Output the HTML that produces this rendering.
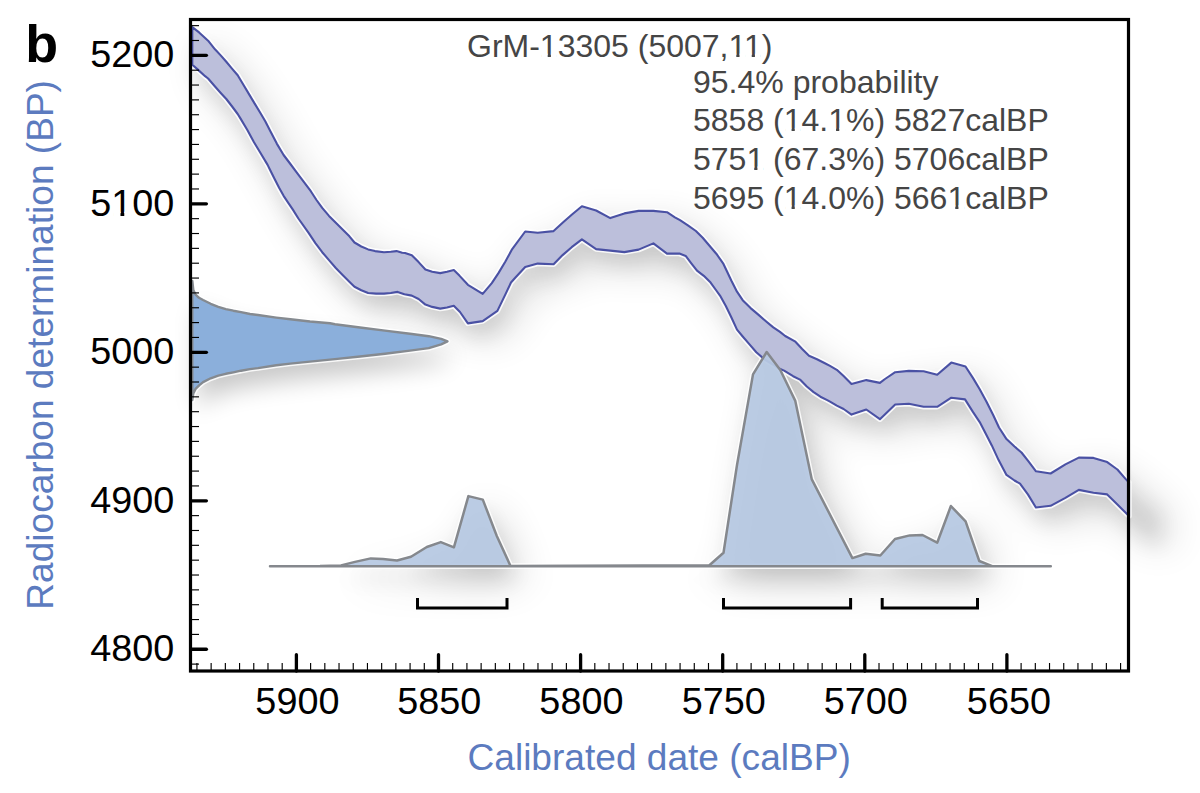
<!DOCTYPE html>
<html><head><meta charset="utf-8"><style>
html,body{margin:0;padding:0;background:#fff;}
body{width:1200px;height:793px;overflow:hidden;}
svg{display:block;font-family:"Liberation Sans",sans-serif;}
</style></head><body>
<svg width="1200" height="793" viewBox="0 0 1200 793">
<defs>
<filter id="sh" x="-30%" y="-30%" width="160%" height="200%">
<feGaussianBlur in="SourceAlpha" stdDeviation="10" result="b1"/>
<feOffset in="b1" dx="5" dy="14" result="o1"/>
<feGaussianBlur in="SourceAlpha" stdDeviation="20" result="b2"/>
<feOffset in="b2" dx="12" dy="15" result="o2"/>
<feComponentTransfer in="o1" result="c1"><feFuncA type="linear" slope="0.1"/></feComponentTransfer>
<feComponentTransfer in="o2" result="c2"><feFuncA type="linear" slope="0.19"/></feComponentTransfer>
<feMerge><feMergeNode in="c2"/><feMergeNode in="c1"/></feMerge>
</filter>
<filter id="sh2" x="-30%" y="-30%" width="160%" height="200%">
<feGaussianBlur in="SourceAlpha" stdDeviation="12"/>
<feOffset dx="6" dy="16"/>
<feComponentTransfer><feFuncA type="linear" slope="0.22"/></feComponentTransfer>
</filter>
</defs>
<rect width="1200" height="793" fill="#fff"/>
<g filter="url(#sh)" fill="#000">
<polygon points="192.3,27.1 199.1,32.4 208.1,40.7 215.0,49.3 220.7,55.4 226.3,61.8 232.0,68.6 237.7,75.2 243.4,84.7 249.0,94.1 254.7,103.6 260.4,113.0 265.4,121.5 270.0,130.5 276.8,143.6 283.6,155.0 290.4,164.0 297.2,173.1 304.0,182.2 310.8,191.2 316.5,200.0 322.2,207.9 329.0,215.9 335.8,222.7 342.6,229.5 349.4,236.3 354.5,242.5 361.3,246.5 368.1,249.4 375.0,251.1 384.0,252.2 390.8,251.7 396.5,251.1 402.2,252.8 405.0,253.0 411.8,255.3 418.6,262.1 425.4,269.5 432.2,271.8 440.2,273.1 447.0,271.8 453.8,270.1 459.4,275.6 467.9,284.8 482.7,293.9 491.8,283.1 498.6,272.9 505.4,261.5 512.2,249.1 525.2,231.5 537.7,232.7 553.6,231.1 562.6,222.8 571.7,214.8 581.9,206.3 596.1,210.5 610.3,218.1 624.4,213.4 638.6,210.9 653.4,210.9 667.0,212.2 674.9,217.3 680.0,220.2 687.9,225.3 695.9,231.0 702.7,237.8 709.5,245.7 716.3,253.7 723.1,263.3 726.8,271.0 731.3,280.5 737.0,291.7 742.7,300.2 750.6,308.1 758.6,314.9 766.5,321.7 773.3,327.4 780.0,331.9 785.2,336.0 795.4,341.7 802.2,349.0 809.0,355.8 817.0,359.2 824.9,363.2 830.0,365.9 836.8,369.8 843.6,376.1 851.5,384.0 866.3,380.1 879.9,382.9 885.0,379.0 895.2,372.2 908.8,370.9 923.6,371.3 937.2,374.7 951.3,362.6 965.5,366.5 972.9,377.9 979.7,389.2 986.5,401.7 993.3,415.3 999.0,427.5 1006.5,439.1 1014.5,446.5 1021.5,452.5 1028.5,461.4 1036.0,471.3 1050.6,473.5 1065.4,464.4 1078.8,457.6 1093.5,457.9 1107.2,462.1 1117.4,469.5 1125.3,478.6 1129.0,482.5 1140.0,490.0 1156.0,500.0 1156.0,534.0 1140.0,526.0 1129.0,516.0 1117.4,504.6 1107.2,494.4 1093.5,492.7 1078.8,489.9 1065.4,497.8 1050.6,505.8 1035.9,507.5 1027.9,494.4 1020.0,483.7 1014.5,480.5 1006.5,474.9 998.6,460.1 991.8,445.4 985.4,433.0 979.7,422.1 972.9,411.9 965.0,399.4 951.3,397.7 937.2,406.8 923.6,406.8 908.8,403.8 895.2,404.5 879.9,419.2 866.3,409.5 851.5,414.6 843.6,409.0 836.8,405.6 830.0,401.6 827.2,400.1 820.4,396.7 813.6,392.1 806.8,386.5 800.0,379.6 793.1,376.2 784.1,370.6 778.0,368.0 772.0,364.0 764.0,359.0 756.3,352.3 749.5,344.4 742.7,336.5 737.0,329.6 731.3,317.2 725.7,305.8 720.0,295.6 716.3,290.5 710.6,282.6 703.8,275.8 697.0,270.7 691.3,263.3 685.7,255.9 679.4,253.6 667.0,253.6 653.4,243.4 638.6,249.6 624.4,252.1 610.3,250.6 596.1,249.1 581.9,239.4 571.7,247.2 562.6,255.1 553.6,264.2 537.7,263.6 525.2,267.0 515.0,278.0 511.0,282.5 505.4,294.4 497.4,310.9 482.7,321.1 467.9,323.4 460.0,312.0 453.8,305.8 447.0,307.5 440.2,308.6 432.2,306.9 425.4,304.6 418.6,299.0 411.8,295.6 404.4,294.2 397.6,291.9 390.8,293.0 384.0,293.6 376.1,293.6 368.1,293.0 361.3,290.2 354.5,286.8 349.6,282.0 342.6,274.9 335.8,268.0 329.0,260.1 322.2,252.2 315.4,243.1 308.6,232.9 298.4,218.5 292.7,209.4 288.1,202.6 283.6,195.8 279.1,187.8 274.5,178.8 270.0,169.7 267.6,164.9 260.8,153.5 254.0,142.2 247.2,129.7 240.4,118.4 237.7,114.0 232.5,107.0 226.3,99.0 220.5,92.7 215.0,86.5 208.1,78.5 205.1,76.2 197.6,69.4 192.3,64.8"/>
<polygon points="270.0,566.2 320.0,566.1 341.0,565.4 355.0,561.9 370.8,558.4 383.0,559.1 397.0,560.5 411.0,556.7 426.8,547.0 440.8,542.1 453.9,547.4 468.4,496.1 482.8,499.6 496.8,536.0 510.5,565.9 709.4,565.2 723.5,552.8 737.0,465.0 753.0,374.4 766.7,352.0 780.3,370.0 795.3,400.9 811.8,479.4 852.4,558.1 865.7,553.7 880.3,555.5 895.0,539.0 909.7,535.4 922.5,535.0 937.2,542.7 950.9,506.0 965.6,521.3 979.3,561.0 992.2,566.2 1050.8,566.2"/>
</g>
<g filter="url(#sh2)" fill="#000">
<polygon points="192.3,281.0 193.3,290.0 195.6,294.7 199.0,297.8 203.1,300.0 210.7,303.8 218.3,306.8 225.8,309.1 233.4,310.7 241.0,312.1 250.0,314.0 258.0,315.0 276.3,317.6 290.4,319.3 310.0,321.5 330.0,323.2 335.0,324.2 360.0,327.5 385.0,330.6 410.0,333.8 428.8,336.2 441.2,338.8 447.5,341.4 441.2,344.4 428.8,348.1 410.0,350.6 385.0,353.8 360.0,356.5 335.0,359.1 330.0,359.6 310.0,361.6 290.4,363.6 276.3,365.3 258.0,368.1 250.0,369.1 241.0,370.7 233.4,372.3 225.8,373.8 218.3,375.7 210.7,378.3 203.1,382.1 199.4,385.1 195.6,388.9 193.3,393.4 192.3,400.0"/>
</g>
<g fill="none" stroke="#fff" stroke-width="5.5" stroke-linejoin="round" stroke-opacity="0.85">
<polygon points="192.3,27.1 199.1,32.4 208.1,40.7 215.0,49.3 220.7,55.4 226.3,61.8 232.0,68.6 237.7,75.2 243.4,84.7 249.0,94.1 254.7,103.6 260.4,113.0 265.4,121.5 270.0,130.5 276.8,143.6 283.6,155.0 290.4,164.0 297.2,173.1 304.0,182.2 310.8,191.2 316.5,200.0 322.2,207.9 329.0,215.9 335.8,222.7 342.6,229.5 349.4,236.3 354.5,242.5 361.3,246.5 368.1,249.4 375.0,251.1 384.0,252.2 390.8,251.7 396.5,251.1 402.2,252.8 405.0,253.0 411.8,255.3 418.6,262.1 425.4,269.5 432.2,271.8 440.2,273.1 447.0,271.8 453.8,270.1 459.4,275.6 467.9,284.8 482.7,293.9 491.8,283.1 498.6,272.9 505.4,261.5 512.2,249.1 525.2,231.5 537.7,232.7 553.6,231.1 562.6,222.8 571.7,214.8 581.9,206.3 596.1,210.5 610.3,218.1 624.4,213.4 638.6,210.9 653.4,210.9 667.0,212.2 674.9,217.3 680.0,220.2 687.9,225.3 695.9,231.0 702.7,237.8 709.5,245.7 716.3,253.7 723.1,263.3 726.8,271.0 731.3,280.5 737.0,291.7 742.7,300.2 750.6,308.1 758.6,314.9 766.5,321.7 773.3,327.4 780.0,331.9 785.2,336.0 795.4,341.7 802.2,349.0 809.0,355.8 817.0,359.2 824.9,363.2 830.0,365.9 836.8,369.8 843.6,376.1 851.5,384.0 866.3,380.1 879.9,382.9 885.0,379.0 895.2,372.2 908.8,370.9 923.6,371.3 937.2,374.7 951.3,362.6 965.5,366.5 972.9,377.9 979.7,389.2 986.5,401.7 993.3,415.3 999.0,427.5 1006.5,439.1 1014.5,446.5 1021.5,452.5 1028.5,461.4 1036.0,471.3 1050.6,473.5 1065.4,464.4 1078.8,457.6 1093.5,457.9 1107.2,462.1 1117.4,469.5 1125.3,478.6 1129.0,482.5 1129.0,516.0 1117.4,504.6 1107.2,494.4 1093.5,492.7 1078.8,489.9 1065.4,497.8 1050.6,505.8 1035.9,507.5 1027.9,494.4 1020.0,483.7 1014.5,480.5 1006.5,474.9 998.6,460.1 991.8,445.4 985.4,433.0 979.7,422.1 972.9,411.9 965.0,399.4 951.3,397.7 937.2,406.8 923.6,406.8 908.8,403.8 895.2,404.5 879.9,419.2 866.3,409.5 851.5,414.6 843.6,409.0 836.8,405.6 830.0,401.6 827.2,400.1 820.4,396.7 813.6,392.1 806.8,386.5 800.0,379.6 793.1,376.2 784.1,370.6 778.0,368.0 772.0,364.0 764.0,359.0 756.3,352.3 749.5,344.4 742.7,336.5 737.0,329.6 731.3,317.2 725.7,305.8 720.0,295.6 716.3,290.5 710.6,282.6 703.8,275.8 697.0,270.7 691.3,263.3 685.7,255.9 679.4,253.6 667.0,253.6 653.4,243.4 638.6,249.6 624.4,252.1 610.3,250.6 596.1,249.1 581.9,239.4 571.7,247.2 562.6,255.1 553.6,264.2 537.7,263.6 525.2,267.0 515.0,278.0 511.0,282.5 505.4,294.4 497.4,310.9 482.7,321.1 467.9,323.4 460.0,312.0 453.8,305.8 447.0,307.5 440.2,308.6 432.2,306.9 425.4,304.6 418.6,299.0 411.8,295.6 404.4,294.2 397.6,291.9 390.8,293.0 384.0,293.6 376.1,293.6 368.1,293.0 361.3,290.2 354.5,286.8 349.6,282.0 342.6,274.9 335.8,268.0 329.0,260.1 322.2,252.2 315.4,243.1 308.6,232.9 298.4,218.5 292.7,209.4 288.1,202.6 283.6,195.8 279.1,187.8 274.5,178.8 270.0,169.7 267.6,164.9 260.8,153.5 254.0,142.2 247.2,129.7 240.4,118.4 237.7,114.0 232.5,107.0 226.3,99.0 220.5,92.7 215.0,86.5 208.1,78.5 205.1,76.2 197.6,69.4 192.3,64.8"/>
<polygon points="192.3,281.0 193.3,290.0 195.6,294.7 199.0,297.8 203.1,300.0 210.7,303.8 218.3,306.8 225.8,309.1 233.4,310.7 241.0,312.1 250.0,314.0 258.0,315.0 276.3,317.6 290.4,319.3 310.0,321.5 330.0,323.2 335.0,324.2 360.0,327.5 385.0,330.6 410.0,333.8 428.8,336.2 441.2,338.8 447.5,341.4 441.2,344.4 428.8,348.1 410.0,350.6 385.0,353.8 360.0,356.5 335.0,359.1 330.0,359.6 310.0,361.6 290.4,363.6 276.3,365.3 258.0,368.1 250.0,369.1 241.0,370.7 233.4,372.3 225.8,373.8 218.3,375.7 210.7,378.3 203.1,382.1 199.4,385.1 195.6,388.9 193.3,393.4 192.3,400.0"/>
<polygon points="270.0,566.2 320.0,566.1 341.0,565.4 355.0,561.9 370.8,558.4 383.0,559.1 397.0,560.5 411.0,556.7 426.8,547.0 440.8,542.1 453.9,547.4 468.4,496.1 482.8,499.6 496.8,536.0 510.5,565.9 709.4,565.2 723.5,552.8 737.0,465.0 753.0,374.4 766.7,352.0 780.3,370.0 795.3,400.9 811.8,479.4 852.4,558.1 865.7,553.7 880.3,555.5 895.0,539.0 909.7,535.4 922.5,535.0 937.2,542.7 950.9,506.0 965.6,521.3 979.3,561.0 992.2,566.2 1050.8,566.2"/>
</g>
<polygon points="192.3,27.1 199.1,32.4 208.1,40.7 215.0,49.3 220.7,55.4 226.3,61.8 232.0,68.6 237.7,75.2 243.4,84.7 249.0,94.1 254.7,103.6 260.4,113.0 265.4,121.5 270.0,130.5 276.8,143.6 283.6,155.0 290.4,164.0 297.2,173.1 304.0,182.2 310.8,191.2 316.5,200.0 322.2,207.9 329.0,215.9 335.8,222.7 342.6,229.5 349.4,236.3 354.5,242.5 361.3,246.5 368.1,249.4 375.0,251.1 384.0,252.2 390.8,251.7 396.5,251.1 402.2,252.8 405.0,253.0 411.8,255.3 418.6,262.1 425.4,269.5 432.2,271.8 440.2,273.1 447.0,271.8 453.8,270.1 459.4,275.6 467.9,284.8 482.7,293.9 491.8,283.1 498.6,272.9 505.4,261.5 512.2,249.1 525.2,231.5 537.7,232.7 553.6,231.1 562.6,222.8 571.7,214.8 581.9,206.3 596.1,210.5 610.3,218.1 624.4,213.4 638.6,210.9 653.4,210.9 667.0,212.2 674.9,217.3 680.0,220.2 687.9,225.3 695.9,231.0 702.7,237.8 709.5,245.7 716.3,253.7 723.1,263.3 726.8,271.0 731.3,280.5 737.0,291.7 742.7,300.2 750.6,308.1 758.6,314.9 766.5,321.7 773.3,327.4 780.0,331.9 785.2,336.0 795.4,341.7 802.2,349.0 809.0,355.8 817.0,359.2 824.9,363.2 830.0,365.9 836.8,369.8 843.6,376.1 851.5,384.0 866.3,380.1 879.9,382.9 885.0,379.0 895.2,372.2 908.8,370.9 923.6,371.3 937.2,374.7 951.3,362.6 965.5,366.5 972.9,377.9 979.7,389.2 986.5,401.7 993.3,415.3 999.0,427.5 1006.5,439.1 1014.5,446.5 1021.5,452.5 1028.5,461.4 1036.0,471.3 1050.6,473.5 1065.4,464.4 1078.8,457.6 1093.5,457.9 1107.2,462.1 1117.4,469.5 1125.3,478.6 1129.0,482.5 1129.0,516.0 1117.4,504.6 1107.2,494.4 1093.5,492.7 1078.8,489.9 1065.4,497.8 1050.6,505.8 1035.9,507.5 1027.9,494.4 1020.0,483.7 1014.5,480.5 1006.5,474.9 998.6,460.1 991.8,445.4 985.4,433.0 979.7,422.1 972.9,411.9 965.0,399.4 951.3,397.7 937.2,406.8 923.6,406.8 908.8,403.8 895.2,404.5 879.9,419.2 866.3,409.5 851.5,414.6 843.6,409.0 836.8,405.6 830.0,401.6 827.2,400.1 820.4,396.7 813.6,392.1 806.8,386.5 800.0,379.6 793.1,376.2 784.1,370.6 778.0,368.0 772.0,364.0 764.0,359.0 756.3,352.3 749.5,344.4 742.7,336.5 737.0,329.6 731.3,317.2 725.7,305.8 720.0,295.6 716.3,290.5 710.6,282.6 703.8,275.8 697.0,270.7 691.3,263.3 685.7,255.9 679.4,253.6 667.0,253.6 653.4,243.4 638.6,249.6 624.4,252.1 610.3,250.6 596.1,249.1 581.9,239.4 571.7,247.2 562.6,255.1 553.6,264.2 537.7,263.6 525.2,267.0 515.0,278.0 511.0,282.5 505.4,294.4 497.4,310.9 482.7,321.1 467.9,323.4 460.0,312.0 453.8,305.8 447.0,307.5 440.2,308.6 432.2,306.9 425.4,304.6 418.6,299.0 411.8,295.6 404.4,294.2 397.6,291.9 390.8,293.0 384.0,293.6 376.1,293.6 368.1,293.0 361.3,290.2 354.5,286.8 349.6,282.0 342.6,274.9 335.8,268.0 329.0,260.1 322.2,252.2 315.4,243.1 308.6,232.9 298.4,218.5 292.7,209.4 288.1,202.6 283.6,195.8 279.1,187.8 274.5,178.8 270.0,169.7 267.6,164.9 260.8,153.5 254.0,142.2 247.2,129.7 240.4,118.4 237.7,114.0 232.5,107.0 226.3,99.0 220.5,92.7 215.0,86.5 208.1,78.5 205.1,76.2 197.6,69.4 192.3,64.8" fill="#bcbfdb" stroke="#4a51a4" stroke-width="2.1" stroke-linejoin="round"/>
<polygon points="192.3,281.0 193.3,290.0 195.6,294.7 199.0,297.8 203.1,300.0 210.7,303.8 218.3,306.8 225.8,309.1 233.4,310.7 241.0,312.1 250.0,314.0 258.0,315.0 276.3,317.6 290.4,319.3 310.0,321.5 330.0,323.2 335.0,324.2 360.0,327.5 385.0,330.6 410.0,333.8 428.8,336.2 441.2,338.8 447.5,341.4 441.2,344.4 428.8,348.1 410.0,350.6 385.0,353.8 360.0,356.5 335.0,359.1 330.0,359.6 310.0,361.6 290.4,363.6 276.3,365.3 258.0,368.1 250.0,369.1 241.0,370.7 233.4,372.3 225.8,373.8 218.3,375.7 210.7,378.3 203.1,382.1 199.4,385.1 195.6,388.9 193.3,393.4 192.3,400.0" fill="#8bafdb" stroke="#858a90" stroke-width="2.4" stroke-linejoin="round"/>
<polygon points="270.0,566.2 320.0,566.1 341.0,565.4 355.0,561.9 370.8,558.4 383.0,559.1 397.0,560.5 411.0,556.7 426.8,547.0 440.8,542.1 453.9,547.4 468.4,496.1 482.8,499.6 496.8,536.0 510.5,565.9 709.4,565.2 723.5,552.8 737.0,465.0 753.0,374.4 766.7,352.0 780.3,370.0 795.3,400.9 811.8,479.4 852.4,558.1 865.7,553.7 880.3,555.5 895.0,539.0 909.7,535.4 922.5,535.0 937.2,542.7 950.9,506.0 965.6,521.3 979.3,561.0 992.2,566.2 1050.8,566.2" fill="#b7c9e3" fill-opacity="0.95" stroke="#85888d" stroke-width="2.5" stroke-linejoin="round"/>
<g stroke="#000" stroke-width="3" fill="none">
<polyline points="417.5,598 417.5,608 507,608 507,598"/>
<polyline points="723.5,598 723.5,608 850.6,608 850.6,598"/>
<polyline points="882.2,598 882.2,608 977.5,608 977.5,598"/>
</g>
<line x1="191" y1="664.11" x2="199" y2="664.11" stroke="#000" stroke-width="1.15" stroke-linecap="butt"/><line x1="191" y1="649.26" x2="206.4" y2="649.26" stroke="#000" stroke-width="3.3" stroke-linecap="round"/><line x1="191" y1="634.41" x2="199" y2="634.41" stroke="#000" stroke-width="1.15" stroke-linecap="butt"/><line x1="191" y1="619.56" x2="199" y2="619.56" stroke="#000" stroke-width="1.15" stroke-linecap="butt"/><line x1="191" y1="604.72" x2="199" y2="604.72" stroke="#000" stroke-width="1.15" stroke-linecap="butt"/><line x1="191" y1="589.87" x2="199" y2="589.87" stroke="#000" stroke-width="1.15" stroke-linecap="butt"/><line x1="191" y1="575.02" x2="199" y2="575.02" stroke="#000" stroke-width="1.15" stroke-linecap="butt"/><line x1="191" y1="560.17" x2="199" y2="560.17" stroke="#000" stroke-width="1.15" stroke-linecap="butt"/><line x1="191" y1="545.32" x2="199" y2="545.32" stroke="#000" stroke-width="1.15" stroke-linecap="butt"/><line x1="191" y1="530.48" x2="199" y2="530.48" stroke="#000" stroke-width="1.15" stroke-linecap="butt"/><line x1="191" y1="515.63" x2="199" y2="515.63" stroke="#000" stroke-width="1.15" stroke-linecap="butt"/><line x1="191" y1="500.78" x2="206.4" y2="500.78" stroke="#000" stroke-width="3.3" stroke-linecap="round"/><line x1="191" y1="485.93" x2="199" y2="485.93" stroke="#000" stroke-width="1.15" stroke-linecap="butt"/><line x1="191" y1="471.08" x2="199" y2="471.08" stroke="#000" stroke-width="1.15" stroke-linecap="butt"/><line x1="191" y1="456.24" x2="199" y2="456.24" stroke="#000" stroke-width="1.15" stroke-linecap="butt"/><line x1="191" y1="441.39" x2="199" y2="441.39" stroke="#000" stroke-width="1.15" stroke-linecap="butt"/><line x1="191" y1="426.54" x2="199" y2="426.54" stroke="#000" stroke-width="1.15" stroke-linecap="butt"/><line x1="191" y1="411.69" x2="199" y2="411.69" stroke="#000" stroke-width="1.15" stroke-linecap="butt"/><line x1="191" y1="396.84" x2="199" y2="396.84" stroke="#000" stroke-width="1.15" stroke-linecap="butt"/><line x1="191" y1="382.00" x2="199" y2="382.00" stroke="#000" stroke-width="1.15" stroke-linecap="butt"/><line x1="191" y1="367.15" x2="199" y2="367.15" stroke="#000" stroke-width="1.15" stroke-linecap="butt"/><line x1="191" y1="352.30" x2="206.4" y2="352.30" stroke="#000" stroke-width="3.3" stroke-linecap="round"/><line x1="191" y1="337.45" x2="199" y2="337.45" stroke="#000" stroke-width="1.15" stroke-linecap="butt"/><line x1="191" y1="322.60" x2="199" y2="322.60" stroke="#000" stroke-width="1.15" stroke-linecap="butt"/><line x1="191" y1="307.76" x2="199" y2="307.76" stroke="#000" stroke-width="1.15" stroke-linecap="butt"/><line x1="191" y1="292.91" x2="199" y2="292.91" stroke="#000" stroke-width="1.15" stroke-linecap="butt"/><line x1="191" y1="278.06" x2="199" y2="278.06" stroke="#000" stroke-width="1.15" stroke-linecap="butt"/><line x1="191" y1="263.21" x2="199" y2="263.21" stroke="#000" stroke-width="1.15" stroke-linecap="butt"/><line x1="191" y1="248.36" x2="199" y2="248.36" stroke="#000" stroke-width="1.15" stroke-linecap="butt"/><line x1="191" y1="233.52" x2="199" y2="233.52" stroke="#000" stroke-width="1.15" stroke-linecap="butt"/><line x1="191" y1="218.67" x2="199" y2="218.67" stroke="#000" stroke-width="1.15" stroke-linecap="butt"/><line x1="191" y1="203.82" x2="206.4" y2="203.82" stroke="#000" stroke-width="3.3" stroke-linecap="round"/><line x1="191" y1="188.97" x2="199" y2="188.97" stroke="#000" stroke-width="1.15" stroke-linecap="butt"/><line x1="191" y1="174.12" x2="199" y2="174.12" stroke="#000" stroke-width="1.15" stroke-linecap="butt"/><line x1="191" y1="159.28" x2="199" y2="159.28" stroke="#000" stroke-width="1.15" stroke-linecap="butt"/><line x1="191" y1="144.43" x2="199" y2="144.43" stroke="#000" stroke-width="1.15" stroke-linecap="butt"/><line x1="191" y1="129.58" x2="199" y2="129.58" stroke="#000" stroke-width="1.15" stroke-linecap="butt"/><line x1="191" y1="114.73" x2="199" y2="114.73" stroke="#000" stroke-width="1.15" stroke-linecap="butt"/><line x1="191" y1="99.88" x2="199" y2="99.88" stroke="#000" stroke-width="1.15" stroke-linecap="butt"/><line x1="191" y1="85.04" x2="199" y2="85.04" stroke="#000" stroke-width="1.15" stroke-linecap="butt"/><line x1="191" y1="70.19" x2="199" y2="70.19" stroke="#000" stroke-width="1.15" stroke-linecap="butt"/><line x1="191" y1="55.34" x2="206.4" y2="55.34" stroke="#000" stroke-width="3.3" stroke-linecap="round"/><line x1="191" y1="40.49" x2="199" y2="40.49" stroke="#000" stroke-width="1.15" stroke-linecap="butt"/><line x1="191" y1="25.64" x2="199" y2="25.64" stroke="#000" stroke-width="1.15" stroke-linecap="butt"/><line x1="1120.58" y1="671" x2="1120.58" y2="663" stroke="#000" stroke-width="1.15" stroke-linecap="butt"/><line x1="1106.37" y1="671" x2="1106.37" y2="663" stroke="#000" stroke-width="1.15" stroke-linecap="butt"/><line x1="1092.16" y1="671" x2="1092.16" y2="663" stroke="#000" stroke-width="1.15" stroke-linecap="butt"/><line x1="1077.95" y1="671" x2="1077.95" y2="663" stroke="#000" stroke-width="1.15" stroke-linecap="butt"/><line x1="1063.74" y1="671" x2="1063.74" y2="663" stroke="#000" stroke-width="1.15" stroke-linecap="butt"/><line x1="1049.53" y1="671" x2="1049.53" y2="663" stroke="#000" stroke-width="1.15" stroke-linecap="butt"/><line x1="1035.32" y1="671" x2="1035.32" y2="663" stroke="#000" stroke-width="1.15" stroke-linecap="butt"/><line x1="1021.11" y1="671" x2="1021.11" y2="663" stroke="#000" stroke-width="1.15" stroke-linecap="butt"/><line x1="1006.90" y1="671" x2="1006.90" y2="654.7" stroke="#000" stroke-width="3.3" stroke-linecap="round"/><line x1="992.69" y1="671" x2="992.69" y2="663" stroke="#000" stroke-width="1.15" stroke-linecap="butt"/><line x1="978.48" y1="671" x2="978.48" y2="663" stroke="#000" stroke-width="1.15" stroke-linecap="butt"/><line x1="964.27" y1="671" x2="964.27" y2="663" stroke="#000" stroke-width="1.15" stroke-linecap="butt"/><line x1="950.06" y1="671" x2="950.06" y2="663" stroke="#000" stroke-width="1.15" stroke-linecap="butt"/><line x1="935.85" y1="671" x2="935.85" y2="663" stroke="#000" stroke-width="1.15" stroke-linecap="butt"/><line x1="921.64" y1="671" x2="921.64" y2="663" stroke="#000" stroke-width="1.15" stroke-linecap="butt"/><line x1="907.43" y1="671" x2="907.43" y2="663" stroke="#000" stroke-width="1.15" stroke-linecap="butt"/><line x1="893.22" y1="671" x2="893.22" y2="663" stroke="#000" stroke-width="1.15" stroke-linecap="butt"/><line x1="879.01" y1="671" x2="879.01" y2="663" stroke="#000" stroke-width="1.15" stroke-linecap="butt"/><line x1="864.80" y1="671" x2="864.80" y2="654.7" stroke="#000" stroke-width="3.3" stroke-linecap="round"/><line x1="850.59" y1="671" x2="850.59" y2="663" stroke="#000" stroke-width="1.15" stroke-linecap="butt"/><line x1="836.38" y1="671" x2="836.38" y2="663" stroke="#000" stroke-width="1.15" stroke-linecap="butt"/><line x1="822.17" y1="671" x2="822.17" y2="663" stroke="#000" stroke-width="1.15" stroke-linecap="butt"/><line x1="807.96" y1="671" x2="807.96" y2="663" stroke="#000" stroke-width="1.15" stroke-linecap="butt"/><line x1="793.75" y1="671" x2="793.75" y2="663" stroke="#000" stroke-width="1.15" stroke-linecap="butt"/><line x1="779.54" y1="671" x2="779.54" y2="663" stroke="#000" stroke-width="1.15" stroke-linecap="butt"/><line x1="765.33" y1="671" x2="765.33" y2="663" stroke="#000" stroke-width="1.15" stroke-linecap="butt"/><line x1="751.12" y1="671" x2="751.12" y2="663" stroke="#000" stroke-width="1.15" stroke-linecap="butt"/><line x1="736.91" y1="671" x2="736.91" y2="663" stroke="#000" stroke-width="1.15" stroke-linecap="butt"/><line x1="722.70" y1="671" x2="722.70" y2="654.7" stroke="#000" stroke-width="3.3" stroke-linecap="round"/><line x1="708.49" y1="671" x2="708.49" y2="663" stroke="#000" stroke-width="1.15" stroke-linecap="butt"/><line x1="694.28" y1="671" x2="694.28" y2="663" stroke="#000" stroke-width="1.15" stroke-linecap="butt"/><line x1="680.07" y1="671" x2="680.07" y2="663" stroke="#000" stroke-width="1.15" stroke-linecap="butt"/><line x1="665.86" y1="671" x2="665.86" y2="663" stroke="#000" stroke-width="1.15" stroke-linecap="butt"/><line x1="651.65" y1="671" x2="651.65" y2="663" stroke="#000" stroke-width="1.15" stroke-linecap="butt"/><line x1="637.44" y1="671" x2="637.44" y2="663" stroke="#000" stroke-width="1.15" stroke-linecap="butt"/><line x1="623.23" y1="671" x2="623.23" y2="663" stroke="#000" stroke-width="1.15" stroke-linecap="butt"/><line x1="609.02" y1="671" x2="609.02" y2="663" stroke="#000" stroke-width="1.15" stroke-linecap="butt"/><line x1="594.81" y1="671" x2="594.81" y2="663" stroke="#000" stroke-width="1.15" stroke-linecap="butt"/><line x1="580.60" y1="671" x2="580.60" y2="654.7" stroke="#000" stroke-width="3.3" stroke-linecap="round"/><line x1="566.39" y1="671" x2="566.39" y2="663" stroke="#000" stroke-width="1.15" stroke-linecap="butt"/><line x1="552.18" y1="671" x2="552.18" y2="663" stroke="#000" stroke-width="1.15" stroke-linecap="butt"/><line x1="537.97" y1="671" x2="537.97" y2="663" stroke="#000" stroke-width="1.15" stroke-linecap="butt"/><line x1="523.76" y1="671" x2="523.76" y2="663" stroke="#000" stroke-width="1.15" stroke-linecap="butt"/><line x1="509.55" y1="671" x2="509.55" y2="663" stroke="#000" stroke-width="1.15" stroke-linecap="butt"/><line x1="495.34" y1="671" x2="495.34" y2="663" stroke="#000" stroke-width="1.15" stroke-linecap="butt"/><line x1="481.13" y1="671" x2="481.13" y2="663" stroke="#000" stroke-width="1.15" stroke-linecap="butt"/><line x1="466.92" y1="671" x2="466.92" y2="663" stroke="#000" stroke-width="1.15" stroke-linecap="butt"/><line x1="452.71" y1="671" x2="452.71" y2="663" stroke="#000" stroke-width="1.15" stroke-linecap="butt"/><line x1="438.50" y1="671" x2="438.50" y2="654.7" stroke="#000" stroke-width="3.3" stroke-linecap="round"/><line x1="424.29" y1="671" x2="424.29" y2="663" stroke="#000" stroke-width="1.15" stroke-linecap="butt"/><line x1="410.08" y1="671" x2="410.08" y2="663" stroke="#000" stroke-width="1.15" stroke-linecap="butt"/><line x1="395.87" y1="671" x2="395.87" y2="663" stroke="#000" stroke-width="1.15" stroke-linecap="butt"/><line x1="381.66" y1="671" x2="381.66" y2="663" stroke="#000" stroke-width="1.15" stroke-linecap="butt"/><line x1="367.45" y1="671" x2="367.45" y2="663" stroke="#000" stroke-width="1.15" stroke-linecap="butt"/><line x1="353.24" y1="671" x2="353.24" y2="663" stroke="#000" stroke-width="1.15" stroke-linecap="butt"/><line x1="339.03" y1="671" x2="339.03" y2="663" stroke="#000" stroke-width="1.15" stroke-linecap="butt"/><line x1="324.82" y1="671" x2="324.82" y2="663" stroke="#000" stroke-width="1.15" stroke-linecap="butt"/><line x1="310.61" y1="671" x2="310.61" y2="663" stroke="#000" stroke-width="1.15" stroke-linecap="butt"/><line x1="296.40" y1="671" x2="296.40" y2="654.7" stroke="#000" stroke-width="3.3" stroke-linecap="round"/><line x1="282.19" y1="671" x2="282.19" y2="663" stroke="#000" stroke-width="1.15" stroke-linecap="butt"/><line x1="267.98" y1="671" x2="267.98" y2="663" stroke="#000" stroke-width="1.15" stroke-linecap="butt"/><line x1="253.77" y1="671" x2="253.77" y2="663" stroke="#000" stroke-width="1.15" stroke-linecap="butt"/><line x1="239.56" y1="671" x2="239.56" y2="663" stroke="#000" stroke-width="1.15" stroke-linecap="butt"/><line x1="225.35" y1="671" x2="225.35" y2="663" stroke="#000" stroke-width="1.15" stroke-linecap="butt"/><line x1="211.14" y1="671" x2="211.14" y2="663" stroke="#000" stroke-width="1.15" stroke-linecap="butt"/><line x1="196.93" y1="671" x2="196.93" y2="663" stroke="#000" stroke-width="1.15" stroke-linecap="butt"/>
<rect x="190.5" y="19.5" width="938" height="651.5" fill="none" stroke="#000" stroke-width="3.2"/>
<g font-size="37" fill="#000"><text transform="translate(174.3,67.3) scale(1.022,1)" text-anchor="end">5200</text><text transform="translate(174.3,215.8) scale(1.022,1)" text-anchor="end">5100</text><text transform="translate(174.3,364.3) scale(1.022,1)" text-anchor="end">5000</text><text transform="translate(174.3,512.8) scale(1.022,1)" text-anchor="end">4900</text><text transform="translate(174.3,661.3) scale(1.022,1)" text-anchor="end">4800</text><text transform="translate(297.4,714) scale(1.022,1)" text-anchor="middle">5900</text><text transform="translate(439.3,714) scale(1.022,1)" text-anchor="middle">5850</text><text transform="translate(581.4,714) scale(1.022,1)" text-anchor="middle">5800</text><text transform="translate(723.7,714) scale(1.022,1)" text-anchor="middle">5750</text><text transform="translate(865.8,714) scale(1.022,1)" text-anchor="middle">5700</text><text transform="translate(1008.9,714) scale(1.022,1)" text-anchor="middle">5650</text></g>
<text transform="translate(25.2,61.9) scale(1.035,1.01)" font-size="52" font-weight="bold" fill="#000">b</text>
<text x="467.5" y="770.3" font-size="37.1" fill="#5c7bbf">Calibrated date (calBP)</text>
<text transform="translate(52.6,609.7) rotate(-90)" font-size="37.1" fill="#5c7bbf">Radiocarbon determination (BP)</text>
<g font-size="32" fill="#454545">
<text x="467" y="57.2">GrM-13305 (5007,11)</text>
<text x="693" y="92.6">95.4% probability</text>
<text x="693" y="131.4">5858 (14.1%) 5827calBP</text>
<text x="693" y="170">5751 (67.3%) 5706calBP</text>
<text x="693" y="208.8">5695 (14.0%) 5661calBP</text>
</g>
<rect x="-59.87" y="-4.07" width="7.21" height="4.81" fill="#fff" transform="translate(174.3,215.8) scale(1.022,1)"/>
<rect x="-48.96" y="-4.07" width="6.85" height="4.81" fill="#fff" transform="translate(174.3,215.8) scale(1.022,1)"/>
<rect x="541.46" y="53.68" width="6.24" height="4.16" fill="#fff"/>
<rect x="550.90" y="53.68" width="5.92" height="4.16" fill="#fff"/>
<rect x="730.07" y="53.68" width="6.24" height="4.16" fill="#fff"/>
<rect x="739.51" y="53.68" width="5.92" height="4.16" fill="#fff"/>
<rect x="745.49" y="53.68" width="6.24" height="4.16" fill="#fff"/>
<rect x="754.93" y="53.68" width="5.92" height="4.16" fill="#fff"/>
<rect x="785.33" y="127.88" width="6.24" height="4.16" fill="#fff"/>
<rect x="794.77" y="127.88" width="5.92" height="4.16" fill="#fff"/>
<rect x="829.82" y="127.88" width="6.24" height="4.16" fill="#fff"/>
<rect x="839.26" y="127.88" width="5.92" height="4.16" fill="#fff"/>
<rect x="747.99" y="166.48" width="6.24" height="4.16" fill="#fff"/>
<rect x="757.43" y="166.48" width="5.92" height="4.16" fill="#fff"/>
<rect x="785.33" y="205.28" width="6.24" height="4.16" fill="#fff"/>
<rect x="794.77" y="205.28" width="5.92" height="4.16" fill="#fff"/>
<rect x="949.01" y="205.28" width="6.24" height="4.16" fill="#fff"/>
<rect x="958.45" y="205.28" width="5.92" height="4.16" fill="#fff"/>
</svg>
</body></html>
